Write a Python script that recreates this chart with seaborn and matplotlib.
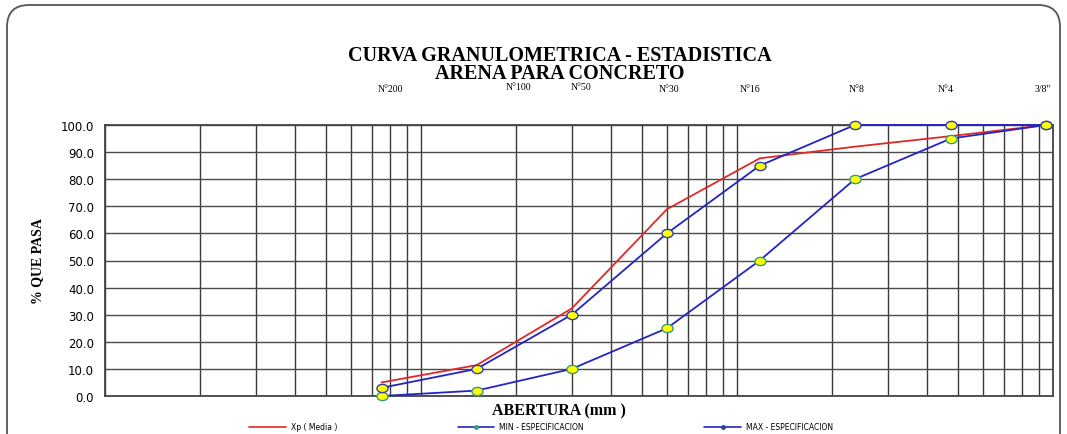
import numpy as np
import pandas as pd
import matplotlib
matplotlib.use("Agg")
import matplotlib.pyplot as plt
from matplotlib.patches import FancyBboxPatch
from matplotlib.lines import Line2D
from matplotlib.path import Path
from matplotlib.transforms import Affine2D
from matplotlib.ticker import LogLocator, NullFormatter, FixedLocator, FormatStrFormatter
import seaborn as sns

# ---------------- data ----------------
tamices = ["N°200", "N°100", "N°50", "N°30", "N°16", "N°8", "N°4", '3/8"']
abertura_mm = [0.075, 0.15, 0.30, 0.60, 1.18, 2.36, 4.75, 9.50]
xp_media = [5.0, 11.4, 32.3, 68.9, 87.7, 92.0, 95.9, 100.0]
min_espec = [0.0, 2.0, 10.0, 25.0, 50.0, 80.0, 95.0, 100.0]
max_espec = [3.0, 10.0, 30.0, 60.0, 85.0, 100.0, 100.0, 100.0]
y_ticks = [0, 10, 20, 30, 40, 50, 60, 70, 80, 90, 100]

titulo1 = "CURVA GRANULOMETRICA - ESTADISTICA"
titulo2 = "ARENA PARA CONCRETO"
xlabel = "ABERTURA (mm )"
ylabel = "% QUE PASA"
leg_labels = ["Xp ( Media )", "MIN - ESPECIFICACION", "MAX - ESPECIFICACION"]

# label offsets (pixels) for sieve names above the chart
label_dx = [9, 42, 9, 2, -10, 2, -5, -3]
label_dy = [37, 38, 38, 36, 37, 37, 37, 37]

# ---------------- style ----------------
sns.set_style("white")
plt.rcParams["font.family"] = ["DejaVu Sans"]
plt.rcParams["text.color"] = "black"

fig = plt.figure(figsize=(10.67, 4.35), dpi=100)
ax = fig.add_axes([105 / 1067, 1 - 397 / 435, (1053 - 105) / 1067, (397 - 126) / 435])

df_xp = pd.DataFrame({"abertura": abertura_mm, "pasa": xp_media})
df_min = pd.DataFrame({"abertura": abertura_mm, "pasa": min_espec})
df_max = pd.DataFrame({"abertura": abertura_mm, "pasa": max_espec})

ellipse = Path.unit_circle().transformed(Affine2D().scale(1.35, 1.0))

red = "#E02828"
blue = "#2424C4"

sns.lineplot(data=df_xp, x="abertura", y="pasa", ax=ax, color=red, lw=1.3,
             zorder=4, legend=False)
sns.lineplot(data=df_min, x="abertura", y="pasa", ax=ax, color=blue, lw=1.3,
             marker=ellipse, markersize=8, markerfacecolor="#FFFF00",
             markeredgecolor="#3A9A7A", markeredgewidth=1.0, zorder=5, legend=False)
sns.lineplot(data=df_max, x="abertura", y="pasa", ax=ax, color=blue, lw=1.3,
             marker=ellipse, markersize=8, markerfacecolor="#FFFF00",
             markeredgecolor="#3040A0", markeredgewidth=1.0, zorder=6, legend=False)
for ln in ax.lines:
    ln.set_clip_on(False)

ax.set_xscale("log")
ax.set_xlim(0.01, 10)
ax.set_ylim(0, 100)
ax.xaxis.set_major_locator(LogLocator(base=10))
ax.xaxis.set_minor_locator(LogLocator(base=10, subs=np.arange(2, 10)))
ax.xaxis.set_major_formatter(NullFormatter())
ax.xaxis.set_minor_formatter(NullFormatter())
ax.tick_params(axis="x", which="both", length=0)
ax.yaxis.set_major_locator(FixedLocator(y_ticks))
ax.yaxis.set_major_formatter(FormatStrFormatter("%.1f"))
ax.tick_params(axis="y", which="major", length=5, width=1, color="#333333",
               labelsize=8.5, labelcolor="black", pad=3, direction="out")
ax.grid(True, which="both", axis="x", color="#3a3a3a", lw=1.0)
ax.grid(True, which="major", axis="y", color="#4a4a4a", lw=1.0)
for s in ax.spines.values():
    s.set_color("#444444")
    s.set_linewidth(1.3)
ax.set_xlabel("")
ax.set_ylabel("")

# y label
fig.text(38 / 1067, 1 - 261 / 435, ylabel, rotation=90, ha="center", va="center",
         fontsize=10, fontweight="bold", family=["Liberation Serif"], color="black")
# x label
fig.text(559 / 1067, 1 - 411 / 435, xlabel, ha="center", va="center",
         fontsize=11.5, fontweight="bold", family=["Liberation Serif"], color="black")
# title (two lines, one text)
fig.text(560 / 1067, 1 - 65 / 435, titulo1 + "\n" + titulo2, ha="center",
         va="center", multialignment="center", linespacing=0.82,
         fontsize=14.5, fontweight="bold", family=["Liberation Serif"], color="black")

# sieve labels above plot
for name, x, dx, dy in zip(tamices, abertura_mm, label_dx, label_dy):
    ax.annotate(name, xy=(x, 1.0), xycoords=("data", "axes fraction"),
                xytext=(dx, dy), textcoords="offset pixels", ha="center",
                va="center", fontsize=7, family=["Liberation Serif"], color="black")

# legend
handles = [
    Line2D([], [], color=red, lw=1.2),
    Line2D([], [], color=blue, lw=1.2, marker="o", markersize=2.5,
           markerfacecolor="#40A080", markeredgecolor="#3A9A7A"),
    Line2D([], [], color=blue, lw=1.2, marker="o", markersize=2.5,
           markerfacecolor="#3040A0", markeredgecolor="#3040A0"),
]
fig.legend(handles, leg_labels, loc="center", bbox_to_anchor=(541 / 1067, 1 - 428 / 435),
           ncol=3, frameon=False, fontsize=5.5, handlelength=4.8,
           columnspacing=15.8, handletextpad=0.6)

# rounded outer frame
box = FancyBboxPatch((0.07, -0.4), 10.53, 4.69,
                     boxstyle="round,pad=0,rounding_size=0.22",
                     transform=fig.dpi_scale_trans, fill=False,
                     edgecolor="#555555", lw=1.3, zorder=0)
fig.patches.append(box)

fig.savefig("out.png", dpi=100)
